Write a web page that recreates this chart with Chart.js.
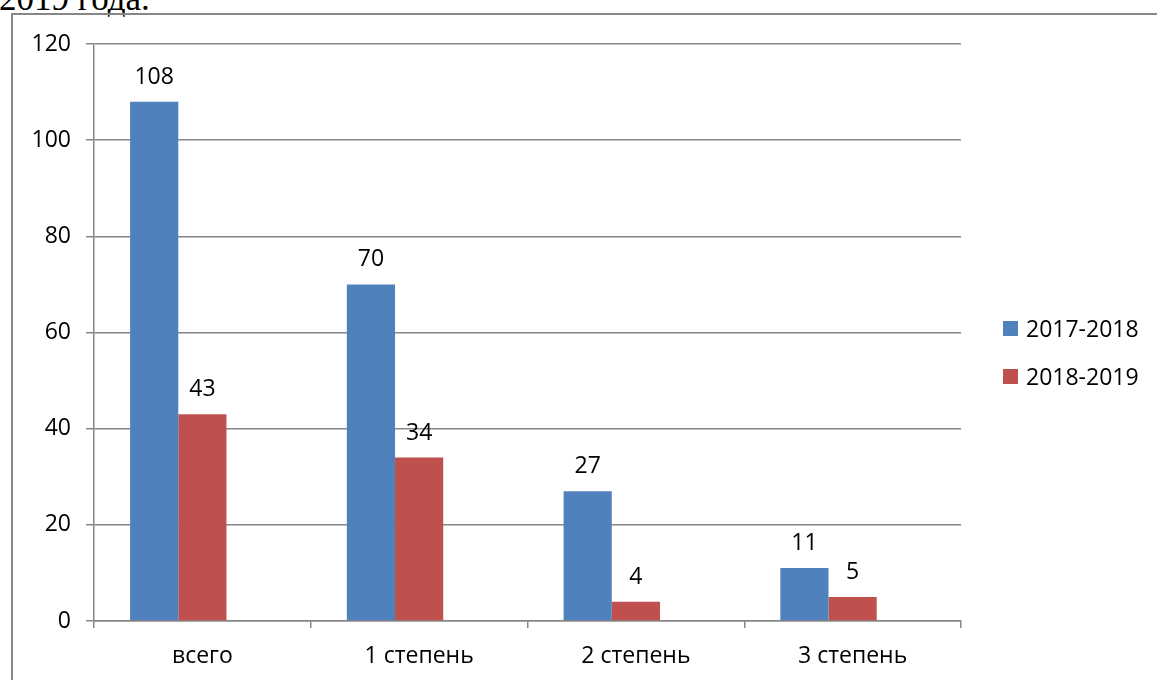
<!DOCTYPE html>
<html>
<head>
<meta charset="utf-8">
<script src="https://cdn.jsdelivr.net/npm/chart.js@4.4.1/dist/chart.umd.min.js"></script>
<style>
  html, body { margin: 0; padding: 0; background: #fff; overflow: hidden; }
  #wrap { position: relative; width: 1157px; height: 680px; overflow: hidden; }
  #heading { position: absolute; left: -1px; top: -19px; font-family: "Liberation Serif", "DejaVu Serif", serif; font-size: 35px; line-height: 35px; color: #000; white-space: nowrap; }
  #frame { position: absolute; left: 11px; top: 13px; width: 2000px; height: 2000px; border: 2px solid #878787; box-sizing: border-box; }
  #cv { position: absolute; left: 0; top: 0; }
  #legend { position: absolute; left: 1003px; top: 316px; font-family: "Open Sans", sans-serif; font-size: 23px; color: #000; }
  .li { display: flex; align-items: center; height: 24px; margin-bottom: 24px; white-space: nowrap; }
  .sw { width: 15px; height: 15px; margin-right: 8px; flex: none; }
</style>
</head>
<body>
<div id="wrap">
  <div id="heading">2019 года.</div>
  <div id="frame"></div>
  <canvas id="cv" width="1157" height="680"></canvas>
  <div id="legend"></div>
</div>
<script>
const categories = ["всего", "1 степень", "2 степень", "3 степень"];
const seriesNames = ["2017-2018", "2018-2019"];
const values2017 = [108, 70, 27, 11];
const values2018 = [43, 34, 4, 5];
const emptySeries = [null, null, null, null];
const yTicks = [0, 20, 40, 60, 80, 100, 120];

const FONT = "'Open Sans', sans-serif";
const GRID = "#878787";

const dataLabels = {
  id: "dataLabels",
  afterDatasetsDraw(chart) {
    const ctx = chart.ctx;
    ctx.save();
    ctx.font = "23px " + FONT;
    ctx.fillStyle = "#000";
    ctx.textAlign = "center";
    ctx.textBaseline = "alphabetic";
    chart.data.datasets.forEach((ds, i) => {
      if (ds.hideLabel) return;
      const meta = chart.getDatasetMeta(i);
      meta.data.forEach((bar, j) => {
        const v = ds.data[j];
        if (v === null || v === undefined) return;
        ctx.fillText(String(v), bar.x, bar.y - 18);
      });
    });
    ctx.restore();
  }
};

const chart = new Chart(document.getElementById("cv"), {
  type: "bar",
  data: {
    labels: categories,
    datasets: [
      { label: seriesNames[0], data: values2017, backgroundColor: "#4F81BD" },
      { label: seriesNames[1], data: values2018, backgroundColor: "#C0504D" },
      { label: "", data: emptySeries, backgroundColor: "rgba(0,0,0,0)", hideLabel: true, inLegend: false }
    ]
  },
  options: {
    responsive: false,
    animation: false,
    events: [],
    layout: { padding: { top: 44, right: 196, bottom: 0, left: 0 } },
    datasets: { bar: { categoryPercentage: 0.667, barPercentage: 1.0 } },
    plugins: { legend: { display: false }, tooltip: { enabled: false } },
    scales: {
      x: {
        afterFit(s) { s.height = 59; },
        grid: { display: true, drawOnChartArea: false, drawTicks: true, tickLength: 7, color: GRID, lineWidth: 1.5, offset: true },
        border: { display: true, color: GRID, width: 1.5 },
        ticks: { color: "#000", font: { family: FONT, size: 23 }, padding: 15, maxRotation: 0 }
      },
      y: {
        min: 0, max: 120,
        afterFit(s) { s.width = 94; },
        afterBuildTicks(s) { s.ticks = yTicks.map(v => ({ value: v })); },
        grid: { display: true, drawOnChartArea: true, drawTicks: true, tickLength: 8, color: GRID, lineWidth: 1.5 },
        border: { display: true, color: GRID, width: 1.5 },
        ticks: { color: "#000", font: { family: FONT, size: 23 }, padding: 15 }
      }
    }
  },
  plugins: [dataLabels]
});

const legend = document.getElementById("legend");
chart.data.datasets.forEach(ds => {
  if (ds.inLegend === false) return;
  const row = document.createElement("div");
  row.className = "li";
  const sw = document.createElement("span");
  sw.className = "sw";
  sw.style.background = ds.backgroundColor;
  const tx = document.createElement("span");
  tx.textContent = ds.label;
  row.appendChild(sw);
  row.appendChild(tx);
  legend.appendChild(row);
});
</script>
</body>
</html>
